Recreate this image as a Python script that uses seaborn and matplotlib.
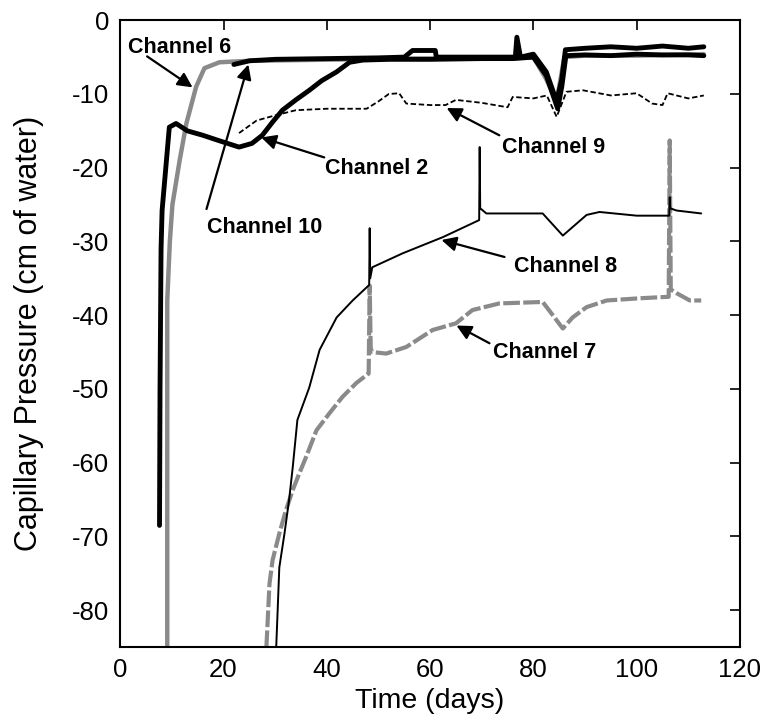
import matplotlib
matplotlib.use("Agg")
import matplotlib.pyplot as plt
import seaborn as sns
import pandas as pd

# ---------------- data ----------------
ch6_t = [9.1, 9.1, 9.6, 10.1, 11.5, 12.8, 14.7, 16.3, 19.2, 25, 35, 45, 55, 65, 75, 80, 82.5, 84.5, 86, 90, 100, 113]
ch6_p = [-85, -38, -30, -25, -19, -14, -9, -6.5, -5.7, -5.5, -5.4, -5.3, -5.2, -5.2, -5.2, -5.0, -8, -11, -5, -4.8, -4.8, -4.6]

ch2_t = [7.6, 7.7, 7.9, 8.1, 9.5, 10.8, 13, 16, 19, 23, 25.5, 27.5, 29.5, 31.4, 34, 36.6, 39, 41.9, 44.4, 47,
         52, 60, 70, 76, 80, 82.5, 84.7, 85.5, 86.3, 90, 95, 100, 105, 110, 113]
ch2_p = [-68.5, -50, -31, -25.8, -14.5, -14, -15, -15.6, -16.3, -17.2, -16.7, -15.6, -13.8, -12.2, -10.8, -9.5, -8.2, -7, -5.7, -5.4,
         -5.3, -5.3, -5.2, -5.2, -5.0, -7.5, -12, -9, -4.8, -4.7, -4.8, -4.6, -4.7, -4.7, -4.8]

ch10_t = [22, 25, 30, 40, 50, 55, 56.6, 61, 61.2, 70, 76.5, 76.8, 77.5, 80, 82.5, 84.5, 85.5, 86.2, 90, 95, 100, 105, 110, 113]
ch10_p = [-6.0, -5.5, -5.3, -5.2, -5.1, -5.0, -4.1, -4.1, -5.0, -5.0, -5.0, -2.3, -5.0, -4.6, -7, -11, -8, -4.0, -3.8, -3.6, -3.8, -3.5, -3.8, -3.6]

ch9_t = [23, 26.4, 30, 34, 40, 47.7, 50, 52, 54, 55.4, 60, 63, 65, 70, 75, 76, 80, 82.6, 84.5, 86.4, 89.6, 95, 100, 103, 105, 106, 110, 113]
ch9_p = [-15.3, -13.6, -12.9, -12.2, -12.0, -12.0, -11.0, -10.0, -9.9, -11.3, -11.5, -11.5, -10.8, -11.2, -11.8, -10.4, -10.6, -10.2,
         -13.1, -9.7, -9.5, -10.2, -9.9, -11.3, -11.5, -9.9, -10.6, -10.2]

ch8_t = [30.2, 30.8, 31.8, 32.7, 33.4, 34.3, 36.6, 38.6, 41.9, 45, 48.2, 48.3, 48.4, 48.8, 54.7, 62.5, 69.5, 69.6, 69.7, 70.9,
         81.8, 85.7, 90.3, 92.8, 100, 106.3, 106.4, 106.5, 107.7, 112.5]
ch8_p = [-85, -74.2, -69.6, -65, -60.6, -54.2, -49.8, -44.7, -40.3, -38, -35.9, -28.2, -35, -33.5, -31.6, -29.4, -27.1, -17.2, -25.5, -26.2,
         -26.2, -29.2, -26.4, -26, -26.5, -26.5, -24, -25.5, -25.8, -26.2]

ch7_t = [28.3, 28.9, 29.5, 30.8, 32.1, 33.4, 34.7, 36, 38, 40.5, 43, 45.7, 48.1, 48.3, 48.5, 48.8, 51.5, 55.4, 60.5, 65, 68.2,
         73.4, 81.8, 83, 85.7, 87.6, 90.3, 94.2, 100.6, 106.2, 106.4, 106.6, 107.7, 110.3, 112.5]
ch7_p = [-85, -76.4, -73.2, -69.6, -66.4, -63.7, -61.4, -59.2, -55.6, -53.3, -51.1, -49.2, -47.9, -36, -44.5, -45, -45.2, -44.3, -42, -41.1, -39.3,
         -38.4, -38.2, -39.3, -41.8, -40.3, -38.9, -38, -37.7, -37.5, -16.3, -36.5, -37, -38, -38]

labels = ["Channel 6", "Channel 10", "Channel 2", "Channel 9", "Channel 8", "Channel 7"]
label_xy = [(11.5, -3.7), (27.9, -28.1), (49.6, -20.1), (83.9, -17.2), (86.2, -33.4), (82.2, -45.0)]
arrow_tail = [(5.2, -4.9), (16.7, -25.6), (39.5, -18.6), (73.4, -15.6), (74.4, -32.1), (71.5, -43.8)]
arrow_head = [(14.0, -9.1), (24.8, -6.0), (27.3, -15.9), (63.2, -11.9), (62.2, -29.8), (65.1, -41.4)]

x_ticks = [0, 20, 40, 60, 80, 100, 120]
y_ticks = [0, -10, -20, -30, -40, -50, -60, -70, -80]

# ---------------- plotting ----------------
sns.set_theme(style="white")
plt.rcParams["font.family"] = ["Liberation Sans", "DejaVu Sans"]
plt.rcParams["axes.unicode_minus"] = False

fig = plt.figure(figsize=(7.66, 7.23), dpi=100)
ax = fig.add_axes([0.157, 0.105, 0.809, 0.867])

GRAY = "#8a8a8a"

def draw(t, p, **kw):
    df = pd.DataFrame({"t": t, "p": p})
    sns.lineplot(data=df, x="t", y="p", ax=ax, sort=False, estimator=None, **kw)

draw(ch6_t, ch6_p, color=GRAY, lw=3.2)
draw(ch7_t, ch7_p, color=GRAY, lw=3.0, dashes=(4, 0.8))
draw(ch9_t, ch9_p, color="black", lw=1.3, dashes=(3, 1.5))
draw(ch8_t, ch8_p, color="black", lw=1.4)
draw(ch2_t, ch2_p, color="black", lw=3.5)
draw(ch10_t, ch10_p, color="black", lw=3.5)

for lab, xy, tail, head in zip(labels, label_xy, arrow_tail, arrow_head):
    ax.annotate("", xy=head, xytext=tail,
                arrowprops=dict(arrowstyle="-|>", color="black", lw=1.6,
                                mutation_scale=22, shrinkA=0, shrinkB=0))
    ax.text(xy[0], xy[1], lab, ha="center", va="center", fontsize=15.5,
            fontweight="bold", color="black")

ax.set_xlim(0, 120)
ax.set_ylim(-85, 0)
ax.set_xticks(x_ticks)
ax.set_yticks(y_ticks)
ax.tick_params(direction="in", top=True, right=True, length=7, width=1.2,
               labelsize=18.5, colors="black", pad=8)
for s in ax.spines.values():
    s.set_color("black")
    s.set_linewidth(1.5)
ax.set_xlabel("Time (days)", fontsize=20.5, labelpad=4, color="black")
ax.set_ylabel("Capillary Pressure (cm of water)", fontsize=22, labelpad=20, color="black")

fig.savefig("out.png", dpi=100)
